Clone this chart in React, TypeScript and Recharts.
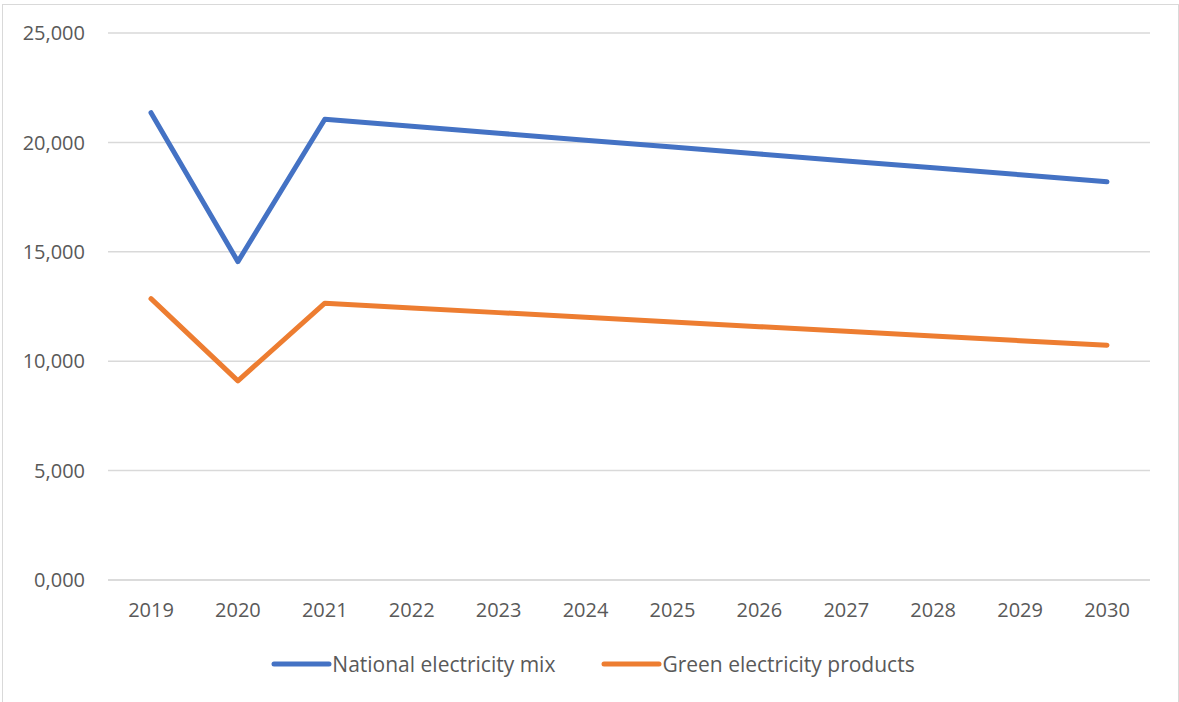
import { LineChart, Line, XAxis, YAxis, CartesianGrid, Legend } from 'recharts';

const years = ['2019', '2020', '2021', '2022', '2023', '2024', '2025', '2026', '2027', '2028', '2029', '2030'];
const nationalMix = [21.36, 14.55, 21.06, 20.74, 20.42, 20.1, 19.79, 19.47, 19.15, 18.84, 18.52, 18.2];
const greenProducts = [12.86, 9.1, 12.65, 12.43, 12.22, 12.01, 11.79, 11.58, 11.37, 11.15, 10.94, 10.73];
const yTicks = [0, 5, 10, 15, 20, 25];

const seriesInfo = [
  { key: 'national', name: 'National electricity mix', color: '#4472C4' },
  { key: 'green', name: 'Green electricity products', color: '#ED7D31' },
];

const data = years.map((year, i) => ({
  year,
  national: nationalMix[i],
  green: greenProducts[i],
}));

const FONT = '"Open Sans", sans-serif';
const TEXT = '#595959';
const GRID = '#d9d9d9';

// 25 -> "25,000"
const fmt = (v: number) => v.toFixed(3).replace('.', ',');

function LegendRow() {
  return (
    <div
      style={{
        height: 62,
        boxSizing: 'border-box',
        paddingTop: 10,
        paddingLeft: 36,
        display: 'flex',
        justifyContent: 'center',
        alignItems: 'flex-start',
        gap: 46,
        fontFamily: FONT,
        fontSize: 21,
        lineHeight: '28px',
        color: TEXT,
      }}
    >
      {seriesInfo.map((s) => (
        <div key={s.key} style={{ display: 'flex', alignItems: 'center', height: 28 }}>
          <svg width={61} height={10}>
            <line x1={3} y1={5} x2={58} y2={5} stroke={s.color} strokeWidth={5} strokeLinecap="round" />
          </svg>
          <span>{s.name}</span>
        </div>
      ))}
    </div>
  );
}

export default function App() {
  return (
    <div style={{ position: 'absolute', left: 0, top: 0, width: 1179, height: 702, background: '#fff', overflow: 'hidden' }}>
      <style>{'body{margin:0}'}</style>
      <div style={{ position: 'absolute', left: 2, top: 4, width: 1175, height: 720, border: `1px solid ${GRID}` }} />
      <LineChart width={1179} height={702} data={data} margin={{ top: 33, right: 29, left: 0, bottom: 0 }}>
        <CartesianGrid vertical={false} stroke={GRID} strokeWidth={1.5} />
        <XAxis
          dataKey="year"
          padding={{ left: 43, right: 43 }}
          height={60}
          axisLine={{ stroke: GRID, strokeWidth: 1.5 }}
          tickLine={false}
          tickSize={0}
          tickMargin={23}
          interval={0}
          tick={{ fontSize: 20, fontFamily: FONT, fill: TEXT }}
        />
        <YAxis
          domain={[0, 25]}
          ticks={yTicks}
          width={108}
          axisLine={false}
          tickLine={false}
          tickSize={0}
          tickMargin={23}
          tickFormatter={fmt}
          tick={{ fontSize: 20, fontFamily: FONT, fill: TEXT }}
        />
        <Legend verticalAlign="bottom" height={62} content={() => <LegendRow />} />
        {seriesInfo.map((s) => (
          <Line
            key={s.key}
            dataKey={s.key}
            name={s.name}
            stroke={s.color}
            strokeWidth={5}
            strokeLinecap="round"
            strokeLinejoin="round"
            dot={false}
            activeDot={false}
            isAnimationActive={false}
          />
        ))}
      </LineChart>
    </div>
  );
}
